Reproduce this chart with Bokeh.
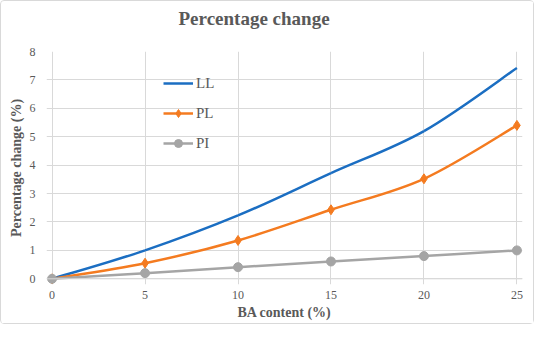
import numpy as np
from bokeh.plotting import figure
from bokeh.models import Range1d, Legend, LegendItem, Span, FixedTicker, Title
from bokeh.embed import file_html
from bokeh.resources import INLINE

ba_content = [0, 5, 10, 15, 20, 25]
ll = [0, 1.0, 2.23, 3.72, 5.2, 7.42]
pl = [0, 0.55, 1.35, 2.43, 3.52, 5.4]
pi = [0, 0.2, 0.41, 0.61, 0.8, 1.0]
x_ticks = [0, 5, 10, 15, 20, 25]
y_ticks = [0, 1, 2, 3, 4, 5, 6, 7, 8]

BLUE = "#1b6ec2"
ORANGE = "#f47b20"
GRAY = "#a5a5a5"
TXT = "#595959"
SERIF = "Liberation Serif"


def smooth_segments(xs, ys):
    """Catmull-Rom style Bezier control points (Excel-like smoothed line)."""
    x = np.asarray(xs, float)
    y = np.asarray(ys, float)
    n = len(x)
    xp = np.concatenate([[x[0]], x, [x[-1]]])
    yp = np.concatenate([[y[0]], y, [y[-1]]])
    d = dict(x0=[], y0=[], x1=[], y1=[], cx0=[], cy0=[], cx1=[], cy1=[])
    for i in range(n - 1):
        j = i + 1
        d["x0"].append(x[i]); d["y0"].append(y[i])
        d["x1"].append(x[i + 1]); d["y1"].append(y[i + 1])
        d["cx0"].append(x[i] + (xp[j + 1] - xp[j - 1]) / 6)
        d["cy0"].append(y[i] + (yp[j + 1] - yp[j - 1]) / 6)
        d["cx1"].append(x[i + 1] - (xp[j + 2] - xp[j]) / 6)
        d["cy1"].append(y[i + 1] - (yp[j + 2] - yp[j]) / 6)
    return d


p = figure(width=534, height=324, output_backend="svg", toolbar_location=None,
           x_range=Range1d(-0.3, 25.3), y_range=Range1d(-0.2, 8.0),
           min_border_left=45, min_border_right=13, min_border_top=50,
           min_border_bottom=41, title=None)
p.background_fill_color = "white"
p.border_fill_color = "white"
p.outline_line_color = None
p.styles = {"border": "1px solid #d9d9d9", "border-radius": "4px"}

# spacer between title and plot area, then the title itself
p.add_layout(Title(text=" ", text_font_size="10px", standoff=6), "above")
p.add_layout(Title(text="Percentage change", align="left", offset=132,
                   vertical_align="top", standoff=4,
                   text_font=SERIF, text_font_size="19px", text_font_style="bold",
                   text_color=TXT), "above")

# grids
p.xgrid.ticker = FixedTicker(ticks=x_ticks)
p.ygrid.ticker = FixedTicker(ticks=y_ticks)
for g in (p.xgrid, p.ygrid):
    g.grid_line_color = "#d9d9d9"
    g.grid_line_width = 1

# axes
p.xaxis.ticker = FixedTicker(ticks=x_ticks)
p.yaxis.ticker = FixedTicker(ticks=y_ticks)
for ax in (p.xaxis, p.yaxis):
    ax.axis_line_color = None
    ax.major_tick_line_color = None
    ax.minor_tick_line_color = None
    ax.major_label_text_font = SERIF
    ax.major_label_text_font_size = "12px"
    ax.major_label_text_color = TXT
    ax.axis_label_text_font = SERIF
    ax.axis_label_text_font_size = "14px"
    ax.axis_label_text_font_style = "bold"
    ax.axis_label_text_color = TXT
p.xaxis.axis_label = "BA content (%)"
p.yaxis.axis_label = "Percentage change (%)"
p.xaxis.major_label_standoff = 0
p.yaxis.major_label_standoff = 5
p.xaxis.axis_label_standoff = 3
p.yaxis.axis_label_standoff = 3

p.add_layout(Span(location=0, dimension="width", line_color="#d9d9d9", line_width=1))

# series
r_ll = p.bezier(source=smooth_segments(ba_content, ll), x0="x0", y0="y0", x1="x1", y1="y1",
                cx0="cx0", cy0="cy0", cx1="cx1", cy1="cy1", line_color=BLUE, line_width=2.5)
r_pl = p.bezier(source=smooth_segments(ba_content, pl), x0="x0", y0="y0", x1="x1", y1="y1",
                cx0="cx0", cy0="cy0", cx1="cx1", cy1="cy1", line_color=ORANGE, line_width=2.5)
m_pl = p.scatter(ba_content, pl, marker="diamond", size=10, color=ORANGE)
r_pi = p.bezier(source=smooth_segments(ba_content, pi), x0="x0", y0="y0", x1="x1", y1="y1",
                cx0="cx0", cy0="cy0", cx1="cx1", cy1="cy1", line_color=GRAY, line_width=2.5)
m_pi = p.scatter(ba_content, pi, marker="circle", size=9, color=GRAY)

legend = Legend(items=[
    LegendItem(label="LL", renderers=[r_ll]),
    LegendItem(label="PL", renderers=[r_pl, m_pl]),
    LegendItem(label="PI", renderers=[r_pi, m_pi]),
], location=(117, 131))
legend.background_fill_alpha = 0
legend.border_line_color = None
legend.padding = 0
legend.margin = 0
legend.spacing = 10
legend.glyph_width = 30
legend.glyph_height = 20
legend.label_height = 20
legend.label_standoff = 3
legend.label_text_font = SERIF
legend.label_text_font_size = "15px"
legend.label_text_color = TXT
p.add_layout(legend, "center")

open("out.html", "w").write(file_html(p, INLINE))
